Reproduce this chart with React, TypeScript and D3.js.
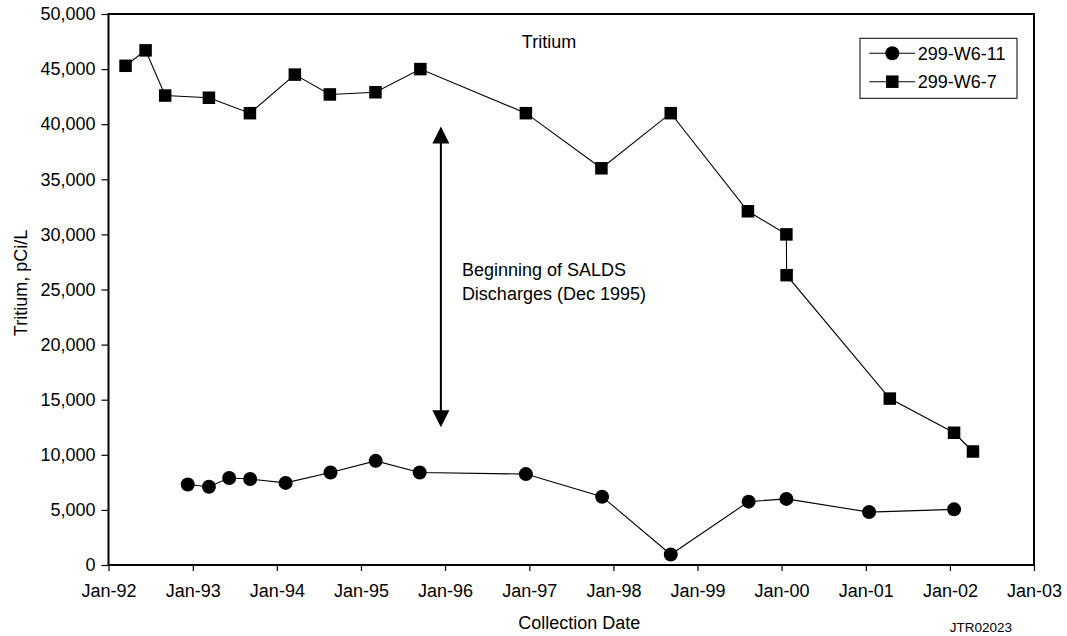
import React, { useEffect, useRef } from 'react';
import * as d3 from 'd3';

// 299-W6-7 (squares)
const w67Dates = [
  '1992-03-15', '1992-06-10', '1992-09-03', '1993-03-12', '1993-09-06', '1994-03-20',
  '1994-08-19', '1995-03-05', '1995-09-16', '1996-12-17', '1997-11-10', '1998-09-07',
  '1999-08-08', '2000-01-22', '2000-01-23', '2001-04-15', '2002-01-19', '2002-04-11',
];
const w67Values = [
  45300, 46700, 42600, 42400, 41000, 44500,
  42700, 42900, 45000, 41000, 36000, 41000,
  32100, 30000, 26300, 15100, 12000, 10300,
];

// 299-W6-11 (circles)
const w611Dates = [
  '1992-12-10', '1993-03-12', '1993-06-08', '1993-09-07', '1994-02-08', '1994-08-22',
  '1995-03-06', '1995-09-13', '1996-12-17', '1997-11-13', '1998-09-07', '1999-08-11',
  '2000-01-22', '2001-01-15', '2002-01-19',
];
const w611Values = [
  7300, 7100, 7900, 7800, 7450, 8400,
  9450, 8400, 8250, 6200, 950, 5750,
  6000, 4800, 5050,
];

const yTicks = [0, 5000, 10000, 15000, 20000, 25000, 30000, 35000, 40000, 45000, 50000];
const xTickYears = [1992, 1993, 1994, 1995, 1996, 1997, 1998, 1999, 2000, 2001, 2002, 2003];

const arrowDate = '1995-12-14';
const arrowFrom = 12500;
const arrowTo = 39800;

const FONT = '"Liberation Sans", Arial, Helvetica, sans-serif';

export default function App() {
  const svgRef = useRef<SVGSVGElement>(null);

  useEffect(() => {
    if (!svgRef.current) return;
    const width = 1067;
    const height = 636;
    const margin = { top: 14, right: 33, bottom: 71, left: 108.5 };
    const innerWidth = width - margin.left - margin.right;
    const innerHeight = height - margin.top - margin.bottom;

    const root = d3.select(svgRef.current);
    root.selectAll('*').remove();
    root.attr('width', width).attr('height', height);

    const svg = root.append('g').attr('transform', `translate(${margin.left},${margin.top})`);

    const parse = d3.timeParse('%Y-%m-%d');
    const xScale = d3.scaleTime()
      .domain([new Date(1992, 0, 1), new Date(2003, 0, 1)])
      .range([0, innerWidth]);
    const yScale = d3.scaleLinear().domain([0, 50000]).range([innerHeight, 0]);

    // x-axis
    const xAxis = svg.append('g')
      .attr('transform', `translate(0,${innerHeight})`)
      .call(d3.axisBottom(xScale)
        .tickValues(xTickYears.map(y => new Date(y, 0, 1)))
        .tickFormat((d: any) => d3.timeFormat('Jan-%y')(d))
        .tickSize(6)
        .tickSizeOuter(0)
        .tickPadding(13));
    xAxis.select('.domain').remove();
    xAxis.selectAll('line').attr('stroke', '#000').attr('stroke-width', 1.2);
    xAxis.selectAll('text').style('font-family', FONT).style('font-size', '18px').attr('fill', '#000');

    // y-axis
    const yAxis = svg.append('g')
      .call(d3.axisLeft(yScale)
        .tickValues(yTicks)
        .tickFormat((d: any) => d3.format(',')(Number(d)))
        .tickSize(7)
        .tickSizeOuter(0)
        .tickPadding(6));
    yAxis.select('.domain').remove();
    yAxis.selectAll('line').attr('stroke', '#000').attr('stroke-width', 1.2);
    yAxis.selectAll('text').style('font-family', FONT).style('font-size', '18px').attr('fill', '#000');

    // plot frame
    svg.append('rect')
      .attr('x', 0).attr('y', 0)
      .attr('width', innerWidth).attr('height', innerHeight)
      .attr('fill', 'none').attr('stroke', '#000').attr('stroke-width', 2);

    // axis titles
    root.append('text')
      .attr('x', margin.left + innerWidth / 2 + 8)
      .attr('y', 629)
      .attr('text-anchor', 'middle')
      .style('font-family', FONT).style('font-size', '18px')
      .text('Collection Date');

    root.append('text')
      .attr('transform', `translate(27,${283}) rotate(-90)`)
      .attr('text-anchor', 'middle')
      .style('font-family', FONT).style('font-size', '18px')
      .text('Tritium, pCi/L');

    root.append('text')
      .attr('x', 981)
      .attr('y', 632)
      .attr('text-anchor', 'middle')
      .style('font-family', FONT).style('font-size', '13.5px')
      .text('JTR02023');

    // chart title
    svg.append('text')
      .attr('x', 549 - margin.left)
      .attr('y', 48 - margin.top)
      .attr('text-anchor', 'middle')
      .style('font-family', FONT).style('font-size', '18px')
      .text('Tritium');

    const line = d3.line<[Date, number]>()
      .x(d => xScale(d[0]))
      .y(d => yScale(d[1]));

    const w67 = w67Dates.map((d, i) => [parse(d) as Date, w67Values[i]] as [Date, number]);
    const w611 = w611Dates.map((d, i) => [parse(d) as Date, w611Values[i]] as [Date, number]);

    // 299-W6-11 line + circles
    svg.append('path')
      .datum(w611)
      .attr('fill', 'none').attr('stroke', '#000').attr('stroke-width', 1.1)
      .attr('d', line);
    svg.selectAll('.c611')
      .data(w611)
      .enter()
      .append('circle')
      .attr('class', 'c611')
      .attr('cx', (d: [Date, number]) => xScale(d[0]))
      .attr('cy', (d: [Date, number]) => yScale(d[1]))
      .attr('r', 7)
      .attr('fill', '#000');

    // 299-W6-7 line + squares
    svg.append('path')
      .datum(w67)
      .attr('fill', 'none').attr('stroke', '#000').attr('stroke-width', 1.1)
      .attr('d', line);
    const sq = 12.5;
    svg.selectAll('.s67')
      .data(w67)
      .enter()
      .append('rect')
      .attr('class', 's67')
      .attr('x', (d: [Date, number]) => xScale(d[0]) - sq / 2)
      .attr('y', (d: [Date, number]) => yScale(d[1]) - sq / 2)
      .attr('width', sq)
      .attr('height', sq)
      .attr('fill', '#000');

    // double-headed arrow
    const ax = xScale(parse(arrowDate) as Date);
    const yTop = yScale(arrowTo);
    const yBot = yScale(arrowFrom);
    const head = 17;
    const halfW = 8.5;
    svg.append('line')
      .attr('x1', ax).attr('x2', ax)
      .attr('y1', yTop + head - 1).attr('y2', yBot - head + 1)
      .attr('stroke', '#000').attr('stroke-width', 2);
    svg.append('path')
      .attr('d', `M${ax},${yTop}L${ax - halfW},${yTop + head}L${ax + halfW},${yTop + head}Z`)
      .attr('fill', '#000');
    svg.append('path')
      .attr('d', `M${ax},${yBot}L${ax - halfW},${yBot - head}L${ax + halfW},${yBot - head}Z`)
      .attr('fill', '#000');

    const note = svg.append('text')
      .attr('x', ax + 21)
      .attr('y', 275.7 - margin.top)
      .style('font-family', FONT).style('font-size', '18px');
    note.append('tspan').attr('x', ax + 21).text('Beginning of SALDS');
    note.append('tspan').attr('x', ax + 21).attr('dy', 24.5).text('Discharges (Dec 1995)');

    // legend
    const lg = root.append('g').attr('transform', 'translate(860,38.3)');
    lg.append('rect')
      .attr('width', 157).attr('height', 60)
      .attr('fill', '#fff').attr('stroke', '#000').attr('stroke-width', 1);
    const items = [
      { label: '299-W6-11', shape: 'circle', y: 15 },
      { label: '299-W6-7', shape: 'square', y: 43.4 },
    ];
    items.forEach(it => {
      lg.append('line')
        .attr('x1', 9.3).attr('x2', 55)
        .attr('y1', it.y).attr('y2', it.y)
        .attr('stroke', '#000').attr('stroke-width', 1.1);
      if (it.shape === 'circle') {
        lg.append('circle').attr('cx', 32.3).attr('cy', it.y).attr('r', 7).attr('fill', '#000');
      } else {
        lg.append('rect')
          .attr('x', 32.3 - sq / 2).attr('y', it.y - sq / 2)
          .attr('width', sq).attr('height', sq).attr('fill', '#000');
      }
      lg.append('text')
        .attr('x', 57.7).attr('y', it.y).attr('dy', '0.35em')
        .style('font-family', FONT).style('font-size', '18px')
        .text(it.label);
    });
  }, []);

  return (
    <div style={{ position: 'absolute', left: 0, top: 0, background: '#fff' }}>
      <svg ref={svgRef} />
    </div>
  );
}
